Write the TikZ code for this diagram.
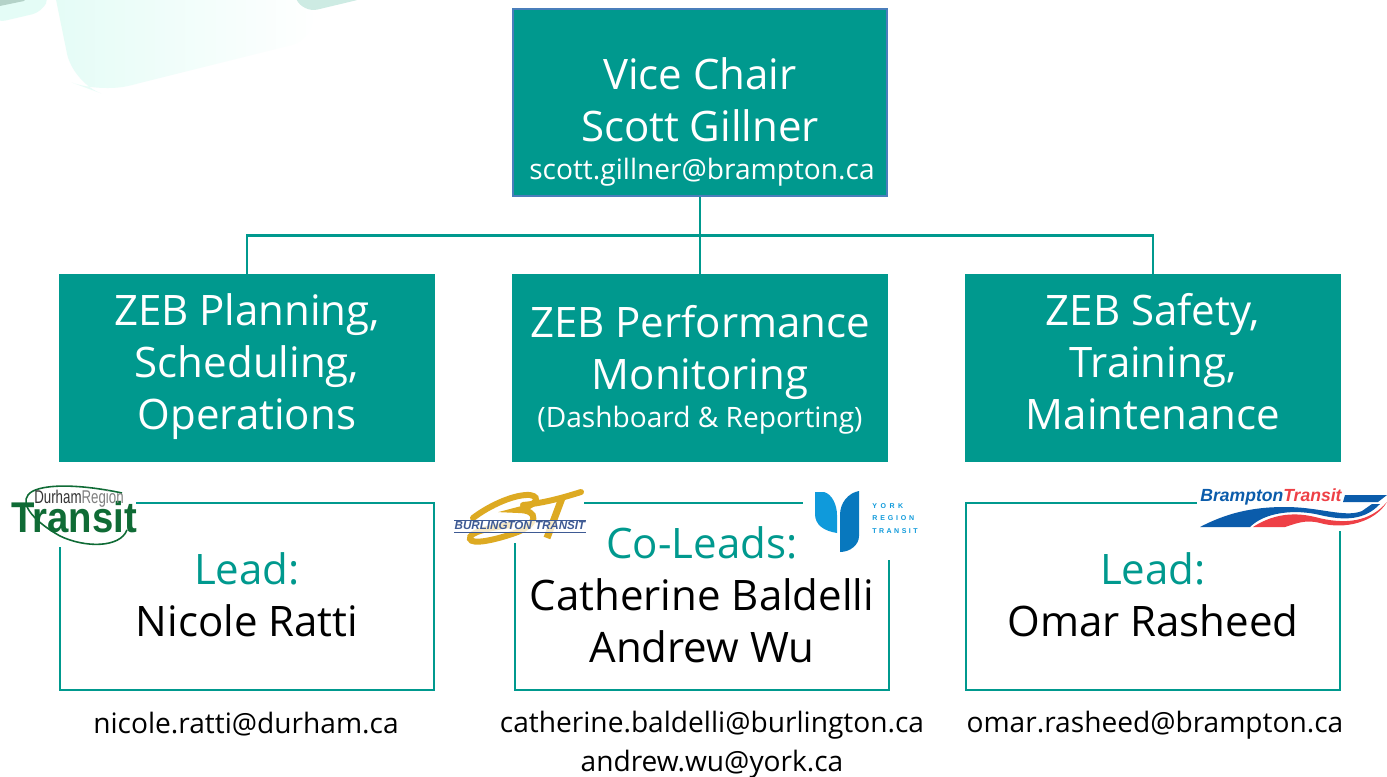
\documentclass[tikz,border=0pt]{standalone}
\usepackage{fontspec}
\setmainfont{Open Sans}
\newfontfamily\logofont{Liberation Sans}
\usetikzlibrary{calc,positioning}
\definecolor{zebteal}{HTML}{00998E}
\definecolor{chairblue}{HTML}{4A7EBB}
\definecolor{mintpale}{HTML}{E4FCF6}
\definecolor{mintmid}{HTML}{CDEBE3}
\definecolor{mintdark}{HTML}{B4D2C8}
\definecolor{durgreen}{HTML}{0F6B35}
\definecolor{burgold}{HTML}{DDAA22}
\definecolor{burnavy}{HTML}{3E5A94}
\definecolor{yorklight}{HTML}{0F9ADB}
\definecolor{yorkdark}{HTML}{0878BE}
\definecolor{bramblue}{HTML}{0B5CAB}
\definecolor{bramred}{HTML}{EE4046}
\newcommand{\bigtxt}{\fontsize{23.9pt}{29.6pt}\selectfont}
\newcommand{\smalltxt}{\fontsize{16pt}{22pt}\selectfont}
\newcommand{\lnstrut}{\rule[-7pt]{0pt}{24pt}}
\begin{document}
\begin{tikzpicture}[x=0.02cm,y=-0.02cm,inner sep=0pt,
  teambox/.style={fill=zebteal,text=white,minimum width=7.52cm,minimum height=3.76cm,align=center,font=\bigtxt},
  leadbox/.style={draw=zebteal,line width=1.5pt,fill=white,minimum width=7.48cm,minimum height=3.74cm},
  leadtxt/.style={align=center,font=\bigtxt},
  mailtxt/.style={align=center,font=\smalltxt},
  link/.style={draw=zebteal,line width=1.4pt},
  logopatch/.style={fill=white,draw=none}]
\useasboundingbox (0,0) rectangle (1387,777);
% background
\fill[white] (0,0) rectangle (1387,777);
\shade[left color=mintpale,right color=white,rounded corners=6mm] (50,-30) -- (73,83) -- (100,93) -- (320,38) -- (300,-30) -- cycle;
\fill[mintmid,rounded corners=3mm] (287,-20) -- (303,13) -- (370,-3) -- (370,-20) -- cycle;
\fill[mintpale,rounded corners=2mm] (-5,-5) -- (-5,23) -- (42,12) -- (50,-5) -- cycle;
\fill[mintdark] (-5,-5) -- (-5,7) -- (24,1) -- (30,-5) -- cycle;
% top row
\node[teambox,draw=chairblue,line width=1.2pt,minimum width=7.48cm,minimum height=3.74cm] (chair) at (700,102.5) {};
\node[align=center,text=white,font=\bigtxt] (chairtxt) at (700,100) {Vice Chair\\Scott Gillner};
\node[mailtxt,text=white] (chairmail) at (702,172) {scott.gillner@brampton.ca};
% team boxes
\node[teambox] (plan) at (247,368) {\lnstrut ZEB Planning,\\Scheduling,\\\lnstrut Operations};
\node[teambox] (perf) at (700,368) {};
\node[teambox] (safe) at (1153,368) {\lnstrut ZEB Safety,\\Training,\\\lnstrut Maintenance};
\node[align=center,text=white,font=\bigtxt] (perftxt) at (700,352) {ZEB Performance\\Monitoring};
\node[text=white,font=\smalltxt] (perfsub) at (700,420) {(Dashboard \& Reporting)};
% connectors
\coordinate (bus) at ($(chair.south)!0.5!(perf.north)$);
\draw[link] (chair.south) -- (perf.north);
\draw[link] (plan.north) |- (bus) -| (safe.north);
% lead boxes
\node[leadbox] (lead1) at (247,596.5) {};
\node[leadbox] (lead2) at (702,596.5) {};
\node[leadbox] (lead3) at (1153,596.5) {};
% logo patches
\fill[logopatch] (12,485) rectangle (136,547);
\fill[logopatch] (455,488) rectangle (584,543);
\fill[logopatch] (803,485) rectangle (918,560);
\fill[logopatch] (1197,487) rectangle (1387,531);
% lead texts
\node[leadtxt] (lead1txt) at (247,595) {\textcolor{zebteal}{Lead:}\\Nicole Ratti};
\node[leadtxt] (lead2txt) at (702,595) {\textcolor{zebteal}{Co-Leads:}\\Catherine Baldelli\\Andrew Wu};
\node[leadtxt] (lead3txt) at (1153,595) {\textcolor{zebteal}{Lead:}\\Omar Rasheed};
\node[mailtxt] (mail1) at (246,724) {nicole.ratti@durham.ca};
\node[mailtxt] (mail2) at (712,745) {catherine.baldelli@burlington.ca\\andrew.wu@york.ca};
\node[mailtxt] (mail3) at (1155,725) {omar.rasheed@brampton.ca};
% durham logo
\draw[durgreen,line width=.9pt] (127,530) .. controls (120,548) and (85,548) .. (60,536) .. controls (35,522) and (20,505) .. (28,495) .. controls (36,484) and (75,483) .. (122,493);
\node[font=\logofont\bfseries\fontsize{24.5pt}{24.5pt}\selectfont,text=durgreen,xscale=.89] (durtrans) at (74,517) {Transit};
\node[font=\logofont\fontsize{10.5pt}{11pt}\selectfont,xscale=.72] (durname) at (79,499) {\textcolor{black!80}{Durham}\textcolor{gray}{Region}};
% burlington logo
\draw[burgold,line width=3.4pt,line cap=round] (473,518) .. controls (490,505) and (515,494) .. (530,495) .. controls (542,497) and (535,506) .. (518,510) .. controls (540,510) and (538,525) .. (515,533) .. controls (495,540) and (472,545) .. (470,539) .. controls (468,532) and (490,528) .. (510,525);
\draw[burgold,line width=3.4pt,line cap=round] (523,505) .. controls (545,503) and (565,497) .. (581,492);
\draw[burgold,line width=4pt] (562,498) -- (547,538);
\node[fill=white,font=\logofont\bfseries\itshape\fontsize{6.6pt}{7pt}\selectfont,text=burnavy,minimum width=2.54cm,minimum height=.22cm,fill opacity=.75,text opacity=1] (burname) at (520,526) {BURLINGTON TRANSIT};
\draw[burnavy,line width=.4pt] (burname.north west) -- (burname.north east) (burname.south west) -- (burname.south east);
% york logo
\fill[yorklight] (815,492) -- (824,492) .. controls (832,494) and (837,505) .. (837,515) -- (837,533) .. controls (824,531) and (815,525) .. (815,514) -- cycle;
\fill[yorkdark] (859,491) -- (859,536) .. controls (859,545) and (850,552) .. (840,552) -- (840,515) .. controls (840,503) and (848,493) .. (859,491) -- cycle;
\node[align=left,text=yorklight,font=\logofont\bfseries\fontsize{4pt}{7.2pt}\selectfont] (yorkname) at (895,518.5) {Y\hspace{2pt}O\hspace{2pt}R\hspace{2pt}K\\R\hspace{1.6pt}E\hspace{1.6pt}G\hspace{1.6pt}I\hspace{1.6pt}O\hspace{1.6pt}N\\T\hspace{1.4pt}R\hspace{1.4pt}A\hspace{1.4pt}N\hspace{1.4pt}S\hspace{1.4pt}I\hspace{1.4pt}T};
% brampton logo
\node[anchor=west,font=\logofont\bfseries\itshape\fontsize{10pt}{11pt}\selectfont] (bramname) at (1200,497) {\textcolor{bramblue}{Brampton}\textcolor{bramred}{Transit}};
\fill[bramblue] (1345,495) -- (1387,495) -- (1378,502) -- (1343,502) -- cycle;
\fill[bramblue] (1200,527) .. controls (1225,514) and (1250,507) .. (1285,507) .. controls (1320,507) and (1345,518) .. (1362,511) -- (1372,504) -- (1380,504) .. controls (1365,520) and (1345,521) .. (1320,515) .. controls (1295,509) and (1265,512) .. (1250,527) -- cycle;
\fill[bramred] (1253,527) .. controls (1270,516) and (1290,511) .. (1315,517) .. controls (1345,525) and (1370,522) .. (1387,502) .. controls (1375,522) and (1345,530) .. (1320,523) .. controls (1305,519) and (1295,524) .. (1285,527) -- cycle;
\end{tikzpicture}
\end{document}
